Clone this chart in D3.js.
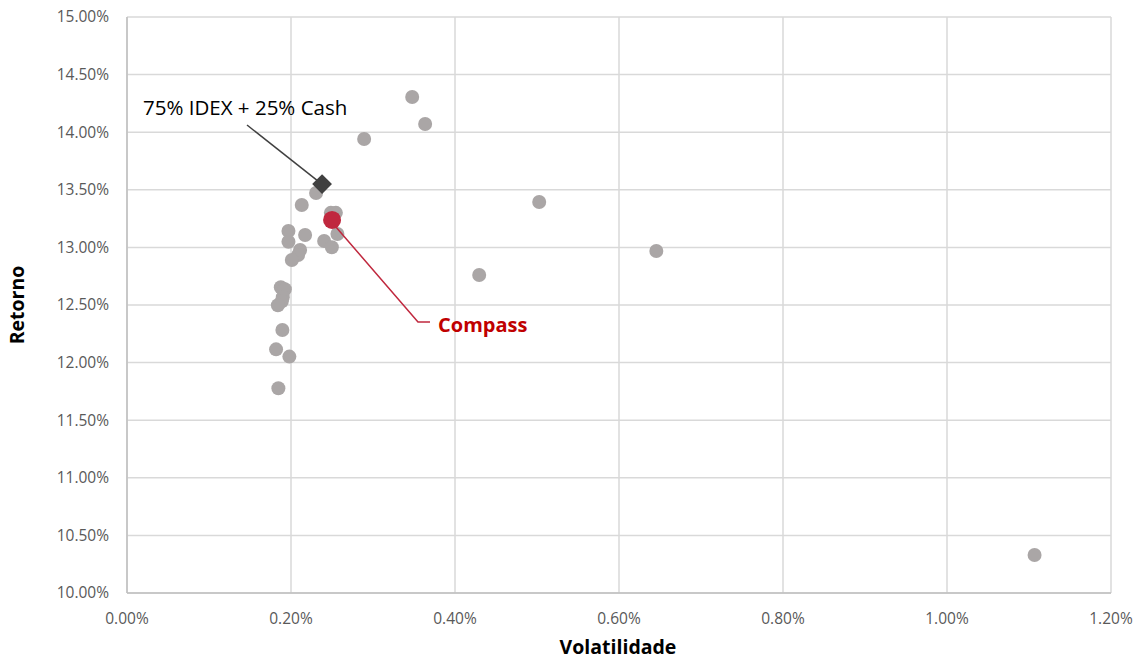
<!DOCTYPE html>
<html>
<head>
<meta charset="utf-8">
<script src="https://cdn.jsdelivr.net/npm/d3@7"></script>
<style>
  body { margin: 0; background: #fff; }
  svg text { font-family: "Open Sans", sans-serif; }
</style>
</head>
<body>
<svg id="chart" width="1138" height="660"></svg>
<script>
  // volatility (%) and return (%) of the peer funds
  var peerVol = [0.3478, 0.3636, 0.2892, 0.5027, 0.4295, 0.6455, 1.1068,
    0.2306, 0.2131, 0.2486, 0.2547, 0.2566, 0.1969, 0.2172, 0.1969, 0.2404,
    0.2498, 0.2111, 0.2087, 0.2010, 0.1876, 0.1925, 0.1900, 0.1888, 0.1840,
    0.1895, 0.1818, 0.1980, 0.1846];
  var peerRet = [14.306, 14.071, 13.941, 13.394, 12.760, 12.969, 10.330,
    13.472, 13.368, 13.300, 13.300, 13.116, 13.142, 13.108, 13.049, 13.056,
    13.001, 12.977, 12.934, 12.891, 12.654, 12.637, 12.568, 12.533, 12.498,
    12.283, 12.115, 12.052, 11.777];

  var benchmark = { name: '75% IDEX + 25% Cash', vol: 0.2379, ret: 13.550 };
  var compass = { name: 'Compass', vol: 0.2501, ret: 13.238 };

  var xTicks = [0, 0.2, 0.4, 0.6, 0.8, 1.0, 1.2];
  var yTicks = [10, 10.5, 11, 11.5, 12, 12.5, 13, 13.5, 14, 14.5, 15];

  var svg = d3.select('#chart');
  var m = { left: 127, right: 1111, top: 17, bottom: 593 };

  var x = d3.scaleLinear().domain([0, 1.2]).range([m.left, m.right]);
  var y = d3.scaleLinear().domain([10, 15]).range([m.bottom, m.top]);

  // gridlines
  svg.append('g').selectAll('line').data(yTicks).enter().append('line')
    .attr('x1', m.left).attr('x2', m.right)
    .attr('y1', function (d) { return y(d); }).attr('y2', function (d) { return y(d); })
    .attr('stroke', '#d9d9d9').attr('stroke-width', 1.5);
  svg.append('g').selectAll('line').data(xTicks).enter().append('line')
    .attr('y1', m.top).attr('y2', m.bottom)
    .attr('x1', function (d) { return x(d); }).attr('x2', function (d) { return x(d); })
    .attr('stroke', '#d9d9d9').attr('stroke-width', 1.5);

  // axis lines
  svg.append('line').attr('x1', m.left).attr('x2', m.right).attr('y1', m.bottom).attr('y2', m.bottom)
    .attr('stroke', '#bfbfbf').attr('stroke-width', 1.5);
  svg.append('line').attr('x1', m.left).attr('x2', m.left).attr('y1', m.top).attr('y2', m.bottom)
    .attr('stroke', '#bfbfbf').attr('stroke-width', 1.5);

  // tick labels
  svg.append('g').selectAll('text').data(yTicks).enter().append('text')
    .attr('x', 109).attr('y', function (d) { return y(d); }).attr('dy', '0.35em')
    .attr('text-anchor', 'end').style('font-size', '15.5px').attr('fill', '#595959')
    .text(function (d) { return d.toFixed(2) + '%'; });
  svg.append('g').selectAll('text').data(xTicks).enter().append('text')
    .attr('x', function (d) { return x(d); }).attr('y', 624)
    .attr('text-anchor', 'middle').style('font-size', '15.5px').attr('fill', '#595959')
    .text(function (d) { return d.toFixed(2) + '%'; });

  // axis titles
  svg.append('text').attr('x', 618).attr('y', 654).attr('text-anchor', 'middle')
    .style('font-size', '19.5px').style('font-weight', 'bold').attr('fill', '#000')
    .text('Volatilidade');
  svg.append('text').attr('transform', 'translate(24,305) rotate(-90)').attr('text-anchor', 'middle')
    .style('font-size', '19.5px').style('font-weight', 'bold').attr('fill', '#000')
    .text('Retorno');

  // peers
  svg.append('g').selectAll('circle').data(peerVol).enter().append('circle')
    .attr('cx', function (d) { return x(d); })
    .attr('cy', function (d, i) { return y(peerRet[i]); })
    .attr('r', 7).attr('fill', '#aaa6a6');

  // benchmark leader + diamond
  var bx = x(benchmark.vol), by = y(benchmark.ret);
  svg.append('line').attr('x1', 247).attr('y1', 125).attr('x2', bx - 4).attr('y2', by - 3)
    .attr('stroke', '#404040').attr('stroke-width', 1.5);
  svg.append('rect').attr('x', -7).attr('y', -7).attr('width', 14).attr('height', 14)
    .attr('transform', 'translate(' + bx + ',' + by + ') rotate(45)')
    .attr('fill', '#404040');
  svg.append('text').attr('x', 143).attr('y', 115).style('font-size', '20.5px').attr('fill', '#000')
    .text(benchmark.name);

  // compass leader + point
  var cx = x(compass.vol), cy = y(compass.ret);
  svg.append('polyline')
    .attr('points', [[cx + 3, cy + 6], [418, 322], [430, 322]].map(function (p) { return p.join(','); }).join(' '))
    .attr('fill', 'none').attr('stroke', '#c0283e').attr('stroke-width', 1.5);
  svg.append('circle').attr('cx', cx).attr('cy', cy).attr('r', 9).attr('fill', '#c0283e');
  svg.append('text').attr('x', 438).attr('y', 332).style('font-size', '20px').style('font-weight', 'bold')
    .attr('fill', '#c00000').text(compass.name);
</script>
</body>
</html>
